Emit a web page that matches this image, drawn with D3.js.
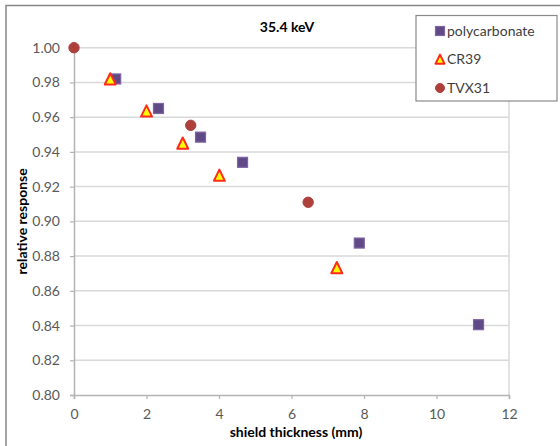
<!DOCTYPE html>
<html><head><meta charset="utf-8">
<script src="https://cdn.jsdelivr.net/npm/d3@7"></script>
<style>body{margin:0;background:#fff}svg{display:block}</style>
</head><body>
<svg id="c" width="560" height="446"></svg>
<script>
const title = "35.4 keV";
const xLabel = "shield thickness (mm)";
const yLabel = "relative response";
const xTicks = [0, 2, 4, 6, 8, 10, 12];
const yTicks = [0.80, 0.82, 0.84, 0.86, 0.88, 0.90, 0.92, 0.94, 0.96, 0.98, 1.00];
const seriesNames = ["polycarbonate", "CR39", "TVX31"];
const polyX = [1.15, 2.33, 3.49, 4.65, 7.87, 11.16];
const polyY = [0.982, 0.965, 0.9485, 0.934, 0.8875, 0.8405];
const cr39X = [1.0, 2.0, 3.0, 4.01, 7.25];
const cr39Y = [0.9815, 0.963, 0.9445, 0.926, 0.8728];
const tvxX = [0.0, 3.22, 6.46];
const tvxY = [1.0, 0.9553, 0.911];

const svg = d3.select("#c");
const font = "Lato, 'Open Sans', sans-serif";
const L = 74, R = 509, T = 47.7, B = 395;
const x = d3.scaleLinear().domain([0, 12]).range([L, R]);
const y = d3.scaleLinear().domain([0.80, 1.00]).range([B, T]);

// outer frame
svg.append("rect").attr("x", 6).attr("y", 5.5).attr("width", 600).attr("height", 500)
  .attr("fill", "#fff").attr("stroke", "#868686").attr("stroke-width", 1.5);

// gridlines
svg.append("g").selectAll("line").data(yTicks.filter(d => d > 0.8)).join("line")
  .attr("x1", L).attr("x2", R).attr("y1", d => y(d)).attr("y2", d => y(d))
  .attr("stroke", "#d9d9d9").attr("stroke-width", 1.5);
// right border of plot area
svg.append("line").attr("x1", R).attr("x2", R).attr("y1", T).attr("y2", B)
  .attr("stroke", "#d9d9d9").attr("stroke-width", 1.5);

// axes
const xAxis = svg.append("g").attr("transform", `translate(0,${B})`)
  .call(d3.axisBottom(x).tickValues(xTicks).tickFormat(d3.format("d")).tickSize(4).tickPadding(10));
const yAxis = svg.append("g").attr("transform", `translate(${L},0)`)
  .call(d3.axisLeft(y).tickValues(yTicks).tickFormat(d3.format(".2f")).tickSize(4).tickPadding(10));
[xAxis, yAxis].forEach(g => {
  g.select(".domain").attr("stroke", "#b3b3b3").attr("stroke-width", 1.5);
  g.selectAll(".tick line").attr("stroke", "#b3b3b3").attr("stroke-width", 1.2);
  g.selectAll("text").attr("font-family", font).attr("font-size", 14).attr("fill", "#595959");
});

// titles
svg.append("text").attr("x", 287).attr("y", 32).attr("text-anchor", "middle")
  .attr("font-family", font).attr("font-size", 14).attr("font-weight", "bold").text(title);
svg.append("text").attr("x", 296).attr("y", 437).attr("text-anchor", "middle")
  .attr("font-family", font).attr("font-size", 14).attr("font-weight", "bold").text(xLabel);
svg.append("text").attr("transform", `translate(27,${(T + B) / 2}) rotate(-90)`).attr("text-anchor", "middle")
  .attr("font-family", font).attr("font-size", 14).attr("font-weight", "bold").text(yLabel);

// marker drawers
const sq = (g, cx, cy, s) => g.append("rect").attr("x", cx - s / 2).attr("y", cy - s / 2)
  .attr("width", s).attr("height", s).attr("fill", "#5f4a87").attr("stroke", "#8064a2").attr("stroke-width", 1.2);
const tri = (g, cx, cy, s) => g.append("path")
  .attr("d", `M${cx},${cy - s * 0.6}L${cx + s / 2},${cy + s * 0.42}L${cx - s / 2},${cy + s * 0.42}Z`)
  .attr("fill", "#ffff00").attr("stroke", "#ff2a1a").attr("stroke-width", 2).attr("stroke-linejoin", "round");
const circ = (g, cx, cy, r) => g.append("circle").attr("cx", cx).attr("cy", cy).attr("r", r)
  .attr("fill", "#ae403c").attr("stroke", "#ae403c").attr("stroke-width", 1);

const pts = svg.append("g");
polyX.forEach((v, i) => sq(pts, x(v), y(polyY[i]), 10));
cr39X.forEach((v, i) => tri(pts, x(v), y(cr39Y[i]), 11));
tvxX.forEach((v, i) => circ(pts, x(v), y(tvxY[i]), 5.2));

// legend
const lg = svg.append("g");
lg.append("rect").attr("x", 416).attr("y", 15.5).attr("width", 141).attr("height", 85.5)
  .attr("fill", "#fff").attr("stroke", "#8a8a8a").attr("stroke-width", 1.2);
const rows = [31, 59, 88];
sq(lg, 440, rows[0], 9);
tri(lg, 440, rows[1] + 1, 9);
circ(lg, 440, rows[2], 4.5);
lg.selectAll("text").data(seriesNames).join("text")
  .attr("x", 447).attr("y", (d, i) => rows[i] + 5)
  .attr("font-family", font).attr("font-size", 14).attr("fill", "#404040").text(d => d);
</script>
</body></html>
